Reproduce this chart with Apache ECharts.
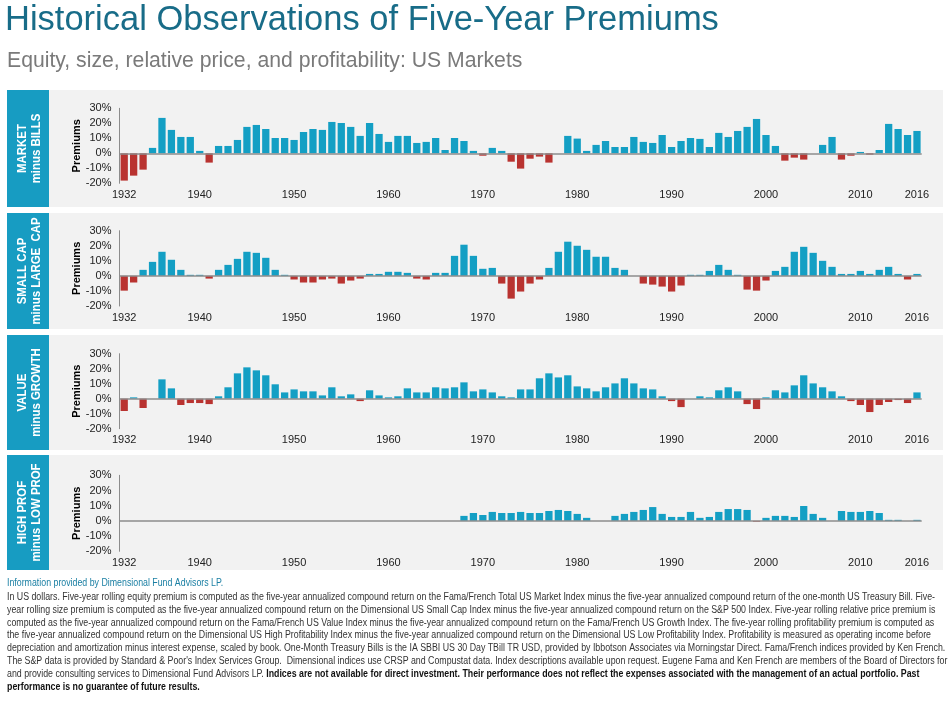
<!DOCTYPE html>
<html>
<head>
<meta charset="utf-8">
<script src="https://cdn.jsdelivr.net/npm/echarts@6/dist/echarts.min.js"></script>
<style>
html,body{margin:0;padding:0;background:#fff;}
#chart{width:950px;height:702px;}
</style>
</head>
<body>
<div id="chart"></div>
<script>
// ---- Data ----
const years = [
 '1932','1933','1934','1935','1936','1937','1938','1939','1940','1941',
 '1942','1943','1944','1945','1946','1947','1948','1949','1950','1951',
 '1952','1953','1954','1955','1956','1957','1958','1959','1960','1961',
 '1962','1963','1964','1965','1966','1967','1968','1969','1970','1971',
 '1972','1973','1974','1975','1976','1977','1978','1979','1980','1981',
 '1982','1983','1984','1985','1986','1987','1988','1989','1990','1991',
 '1992','1993','1994','1995','1996','1997','1998','1999','2000','2001',
 '2002','2003','2004','2005','2006','2007','2008','2009','2010','2011',
 '2012','2013','2014','2015','2016'];
const tickYears = ['1932','1940','1950','1960','1970','1980','1990','2000','2010','2016'];
const yTicks = [-20, -10, 0, 10, 20, 30];

const marketMinusBills = [
 -18.2,-14.9,-10.9,3.6,23.6,15.6,10.9,10.9,1.6,-6.2,
 4.9,4.9,8.9,17.6,18.9,16.2,10.2,10.2,8.9,14.2,
 16.2,15.6,20.9,20.2,17.6,11.6,20.2,12.9,7.6,11.6,
 11.6,6.9,7.6,10.2,2.2,10.2,8.2,1.6,-1.6,3.6,
 1.6,-5.6,-10.2,-3.6,-2.2,-6.2,0,11.6,9.8,1.6,
 5.6,8.2,4.2,4.2,10.9,7.6,6.9,12.2,4.2,8.2,
 10.2,9.6,4.2,13.6,10.9,14.9,17.6,22.9,12.2,4.9,
 -4.9,-2.9,-4.2,0,5.6,10.9,-4.2,-1.6,0.9,-0.9,
 2.2,19.6,16.2,12.2,14.9];
const smallMinusLarge = [
 -9.8,-4.4,4.0,9.3,16.0,10.7,4.0,0.7,0.7,-1.8,
 4.0,7.3,11.3,16.0,15.3,12.0,4.0,0.7,-2.4,-4.4,
 -4.4,-2.4,-1.8,-5.1,-3.1,-1.8,1.3,1.3,2.7,2.7,
 2.0,-1.8,-2.4,2.0,2.0,13.3,20.7,13.3,4.7,5.3,
 -5.1,-15.1,-10.4,-5.1,-2.4,5.3,16.0,22.7,20.0,17.3,
 12.7,12.7,5.3,4.0,0,-5.1,-5.8,-7.1,-10.4,-6.4,
 0.7,0.7,3.3,7.3,4.0,0.7,-9.1,-9.8,-3.1,3.3,
 6.0,16.0,19.3,15.3,10.0,6.0,1.3,1.3,3.3,1.3,
 4.0,6.0,1.3,-2.4,1.3];
const valueMinusGrowth = [
 -8.2,0.9,-6.2,0,12.9,6.9,-4.2,-2.9,-2.9,-3.6,
 1.6,7.6,16.9,20.9,18.9,15.6,9.6,4.2,6.2,4.9,
 4.9,2.2,7.6,1.6,2.9,-1.6,5.6,2.2,0.9,1.6,
 6.9,4.2,4.2,7.6,6.9,7.6,10.9,4.9,6.2,4.2,
 1.6,0.9,6.2,6.2,13.6,16.9,14.2,15.6,8.2,6.9,
 4.9,7.6,10.2,13.6,10.2,6.9,6.2,1.6,-1.6,-5.6,
 0,1.6,0.9,5.6,7.6,4.9,-3.6,-6.9,0.9,5.6,
 4.2,8.9,15.6,10.2,7.6,4.9,1.6,-1.6,-4.2,-8.9,
 -4.2,-2.2,-0.9,-2.9,4.2];
const highMinusLowProf = [
 null,null,null,null,null,null,null,null,null,null,
 null,null,null,null,null,null,null,null,null,null,
 null,null,null,null,null,null,null,null,null,null,
 null,null,null,null,null,null,3.3,5.2,3.9,5.9,
 5.2,5.2,5.9,5.2,5.2,6.5,7.2,6.5,4.6,2.0,
 0,0,3.3,4.6,5.9,7.2,9.1,4.6,2.6,2.6,
 5.9,2.0,2.6,5.9,7.8,7.8,7.2,-0.5,2.0,3.3,
 3.3,2.6,9.8,4.6,2.0,0,6.5,5.9,5.9,6.5,
 5.2,0.7,0.7,0,0.7];

const panelLabels = [
 ['MARKET','minus BILLS'],
 ['SMALL CAP','minus LARGE  CAP'],
 ['VALUE','minus GROWTH'],
 ['HIGH PROF','minus LOW PROF']];
const seriesData = [marketMinusBills, smallMinusLarge, valueMinusGrowth, highMinusLowProf];
const yAxisTitle = 'Premiums';

const titleText = 'Historical Observations of Five-Year Premiums';
const subtitleText = 'Equity, size, relative price, and profitability: US Markets';
const sourceText = 'Information provided by Dimensional Fund Advisors LP.';
const noteLines = [
 'In US dollars. Five-year rolling equity premium is computed as the five-year annualized compound return on the Fama/French Total US Market Index minus the five-year annualized compound return of the one-month US Treasury Bill. Five-',
 'year rolling size premium is computed as the five-year annualized compound return on the Dimensional US Small Cap Index minus the five-year annualized compound return on the S&P 500 Index. Five-year rolling relative price premium is',
 'computed as the five-year annualized compound return on the Fama/French US Value Index minus the five-year annualized compound return on the Fama/French US Growth Index. The five-year rolling profitability premium is computed as',
 'the five-year annualized compound return on the Dimensional US High Profitability Index minus the five-year annualized compound return on the Dimensional US Low Profitability Index. Profitability is measured as operating income before',
 'depreciation and amortization minus interest expense, scaled by book. One-Month Treasury Bills is the IA SBBI US 30 Day TBill TR USD, provided by Ibbotson Associates via Morningstar Direct. Fama/French indices provided by Ken French.',
 'The S&P data is provided by Standard & Poor\'s Index Services Group.  Dimensional indices use CRSP and Compustat data. Index descriptions available upon request. Eugene Fama and Ken French are members of the Board of Directors for'
];
const noteLine7Normal = 'and provide consulting services to Dimensional Fund Advisors LP. ';
const noteLine7Bold = 'Indices are not available for direct investment. Their performance does not reflect the expenses associated with the management of an actual portfolio. Past';
const noteLine8Bold = 'performance is no guarantee of future results.';

// ---- Layout ----
const BLUE = '#149fc4';
const RED = '#b93330';
const BOX = '#179cc2';
const FONT = '"Liberation Sans", Arial, sans-serif';
const NOTE_SIZE = 10;

// horizontal compression for the condensed footnote face
const mctx = document.createElement('canvas').getContext('2d');
mctx.font = NOTE_SIZE + 'px ' + FONT;
const noteScale = 928 / mctx.measureText(noteLines[0]).width;

const panels = [
 {bgTop: 90, bgH: 117, gTop: 108.3, gH: 75},
 {bgTop: 213, bgH: 116, gTop: 230.7, gH: 75.3},
 {bgTop: 335, bgH: 115, gTop: 353.7, gH: 75},
 {bgTop: 455, bgH: 115, gTop: 475.3, gH: 76}
];

const grids = [], xAxes = [], yAxes = [], series = [], graphics = [];

panels.forEach((p, i) => {
  graphics.push({type:'rect', z:-10, silent:true, shape:{x:7, y:p.bgTop, width:936, height:p.bgH}, style:{fill:'#f2f2f2'}});
  graphics.push({type:'rect', z:-9, silent:true, shape:{x:7, y:p.bgTop, width:42, height:p.bgH}, style:{fill:BOX}});
  graphics.push({type:'text', z:5, silent:true, x:29.5, y:p.bgTop + p.bgH/2, rotation:Math.PI/2, scaleX:0.95,
    style:{text: panelLabels[i].join('\n'), fill:'#fff', font:'bold 12px ' + FONT, align:'center', verticalAlign:'middle', lineHeight:13.5}});
  graphics.push({type:'text', z:5, silent:true, x:76.5, y:p.gTop + p.gH/2, rotation:Math.PI/2,
    style:{text: yAxisTitle, fill:'#000', font:'bold 11px ' + FONT, align:'center', verticalAlign:'middle'}});

  grids.push({left:119.5, width:802.2, top:p.gTop, height:p.gH, containLabel:false});
  xAxes.push({
    type:'category', gridIndex:i, data:years,
    axisLine:{show:false}, axisTick:{show:false},
    axisLabel:{
      color:'#222', fontSize:11, fontFamily:FONT, margin:6,
      interval:(idx, val) => tickYears.indexOf(val) >= 0
    },
    splitLine:{show:false}
  });
  yAxes.push({
    type:'value', gridIndex:i, min:yTicks[0], max:yTicks[yTicks.length-1], interval:10,
    axisLine:{show:true, lineStyle:{color:'#8c8c8c', width:1}},
    axisTick:{show:false},
    splitLine:{show:false},
    axisLabel:{formatter:'{value}%', color:'#222', fontSize:11, fontFamily:FONT, margin:8}
  });
  series.push({
    type:'bar', xAxisIndex:i, yAxisIndex:i, data:seriesData[i], barWidth:'77%',
    itemStyle:{color:(pp) => (pp.value < 0 ? RED : BLUE)},
    markLine:{silent:true, symbol:'none', animation:false, label:{show:false},
      lineStyle:{color:'#8c8c8c', width:1.5, type:'solid'}, data:[{yAxis:0}]}
  });
});

graphics.push({type:'text', silent:true, x:5, y:20, style:{text:titleText, fill:'#186c88', font:'34.5px ' + FONT, verticalAlign:'middle'}});
graphics.push({type:'text', silent:true, x:7, y:61, style:{text:subtitleText, fill:'#7a7a7a', font:'21.2px ' + FONT, verticalAlign:'middle'}});
graphics.push({type:'text', silent:true, x:7, y:583, scaleX:noteScale, style:{text:sourceText, fill:'#1a7fa3', font:NOTE_SIZE + 'px ' + FONT, verticalAlign:'middle'}});
const LH = 12.9, Y0 = 597;
noteLines.forEach((t, k) => {
  graphics.push({type:'text', silent:true, x:7, y:Y0 + k*LH, scaleX:noteScale, style:{text:t, fill:'#333', font:NOTE_SIZE + 'px ' + FONT, verticalAlign:'middle'}});
});
graphics.push({type:'text', silent:true, x:7, y:Y0 + 6*LH, scaleX:noteScale, style:{
  text:'{n|' + noteLine7Normal + '}{b|' + noteLine7Bold + '}', verticalAlign:'middle',
  rich:{n:{fill:'#333', fontSize:NOTE_SIZE, fontFamily:FONT}, b:{fill:'#111', fontSize:NOTE_SIZE, fontFamily:FONT, fontWeight:'bold'}}}});
graphics.push({type:'text', silent:true, x:7, y:Y0 + 7*LH, scaleX:noteScale, style:{text:noteLine8Bold, fill:'#111', font:'bold ' + NOTE_SIZE + 'px ' + FONT, verticalAlign:'middle'}});

const chart = echarts.init(document.getElementById('chart'), null, {renderer:'canvas'});
chart.setOption({
  animation:false,
  backgroundColor:'#fff',
  grid:grids, xAxis:xAxes, yAxis:yAxes, series:series,
  graphic:{elements:graphics}
});
</script>
</body>
</html>
